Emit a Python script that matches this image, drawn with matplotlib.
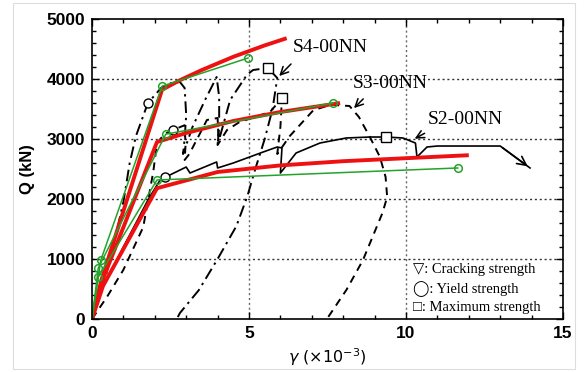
import matplotlib
matplotlib.use("Agg")
import matplotlib.pyplot as plt
from matplotlib.patches import Rectangle
from matplotlib.ticker import MultipleLocator

# experimental curves (gamma x1e-3, Q in kN)
s4_x = [0, 0.15, 0.35, 0.67, 1.0, 1.2, 1.4, 1.78, 2.2, 2.5, 2.8, 2.95, 3.0, 2.95, 2.9,
        3.2, 3.6, 3.97, 4.05, 4.05, 4.0, 4.4, 4.93, 5.13, 5.6, 5.9,
        5.75, 5.5, 5.2, 4.95, 4.6, 4.0, 3.4, 2.8, 2.7]
s4_y = [0, 270, 530, 1200, 1950, 2600, 3050, 3600, 3850, 3930, 3950, 3850, 3400, 3000, 2750,
        3200, 3650, 4033, 3700, 3200, 2900, 3650, 4067, 4150, 4183, 4017,
        3500, 3000, 2500, 2050, 1550, 1000, 480, 100, 0]

s3_x = [0, 0.48, 1.0, 1.63, 1.95, 2.07, 2.3, 2.58, 2.95, 2.98, 2.95, 3.1, 3.66, 4.0,
        4.02, 4.0, 4.3, 4.7, 5.67, 6.05, 6.0, 5.9, 6.3, 7.05, 7.6, 8.2,
        8.5, 8.85, 9.17, 9.35, 9.4, 9.25, 8.63, 8.1, 7.48]
s3_y = [0, 370, 820, 1530, 2450, 2930, 3080, 3150, 3230, 2900, 2650, 2750, 3317, 3350,
        3100, 2900, 3150, 3283, 3450, 3683, 3200, 2750, 3050, 3480, 3570, 3550,
        3367, 3033, 2700, 2367, 2033, 1767, 983, 483, 0]

s2_x = [0, 0.3, 1.0, 1.8, 2.17, 2.32, 2.48, 3.0, 3.12, 3.97, 4.0, 4.5, 5.45, 5.9, 6.05,
        6.0, 6.5, 7.26, 8.1, 8.85, 9.36, 9.9, 10.3, 10.35, 10.67, 11.0, 13.0, 13.95]
s2_y = [0, 480, 1200, 2000, 2317, 2367, 2400, 2533, 2433, 2617, 2517, 2600, 2783, 2867, 2850,
        2433, 2767, 2933, 3017, 3033, 3033, 3017, 2933, 2700, 2867, 2883, 2883, 2517]

# yield (circle) and maximum (square) points of the tests
yield_x = [1.78, 2.58, 2.32]
yield_y = [3600, 3150, 2367]
max_x = [5.6, 6.05, 9.36]
max_y = [4183, 3683, 3033]

# analysis: red = fibre model, green = tri-linear model
red_s4_x = [0, 0.3, 2.23, 2.8, 3.5, 4.5, 5.5, 6.2]
red_s4_y = [0, 650, 3820, 3980, 4150, 4370, 4560, 4680]
red_s3_x = [0, 0.3, 2.07, 3.0, 4.5, 6.0, 7.9]
red_s3_y = [0, 600, 2950, 3100, 3300, 3450, 3600]
red_s2_x = [0, 0.35, 2.07, 4.0, 6.0, 8.0, 10.0, 12.0]
red_s2_y = [0, 550, 2180, 2450, 2560, 2630, 2680, 2730]

grn_s4_x = [0, 0.28, 2.23, 4.97]
grn_s4_y = [0, 980, 3880, 4350]
grn_s3_x = [0, 0.2, 2.35, 7.68]
grn_s3_y = [0, 850, 3080, 3600]
grn_s2_x = [0, 0.2, 2.07, 11.65]
grn_s2_y = [0, 700, 2317, 2517]

specimens = ["S4-00NN", "S3-00NN", "S2-00NN"]
legend_lines = ["\u25bd: Cracking strength", "\u25ef: Yield strength", "\u25a1: Maximum strength"]

fig = plt.figure(figsize=(5.87, 3.72), dpi=100)
ax = fig.add_axes([92 / 587, 1 - 319 / 372, 471 / 587, 300 / 372])

fig.patches.append(Rectangle((13 / 587, 3 / 372), 562 / 587, 366 / 372, transform=fig.transFigure,
                             fill=False, edgecolor="#dddddd", lw=0.8))

ax.plot(s4_x, s4_y, color="black", lw=1.4, dashes=(6, 2.5, 1.2, 2.5))
ax.plot(s3_x, s3_y, color="black", lw=1.4, dashes=(4, 3))
ax.plot(s2_x, s2_y, color="black", lw=1.2)
ax.annotate("", xy=(s2_x[-1], s2_y[-1]), xytext=(s2_x[-2], s2_y[-2]),
            arrowprops=dict(arrowstyle="->", color="black", lw=1.2, mutation_scale=16))

ax.plot(yield_x, yield_y, "o", ms=6.5, mfc="white", mec="black", mew=1.0, ls="none")
ax.plot(max_x, max_y, "s", ms=6.5, mfc="white", mec="black", mew=1.0, ls="none")

for xs, ys in [(red_s4_x, red_s4_y), (red_s3_x, red_s3_y), (red_s2_x, red_s2_y)]:
    ax.plot(xs, ys, color="#ee1111", lw=2.8, solid_capstyle="butt")
for xs, ys in [(grn_s4_x, grn_s4_y), (grn_s3_x, grn_s3_y), (grn_s2_x, grn_s2_y)]:
    ax.plot(xs, ys, color="#22a32a", lw=1.1)
    ax.plot(xs[1:], ys[1:], "o", ms=5.5, mfc="none", mec="#22a32a", mew=1.1)

# specimen names with pointer arrows
name_pos = [(6.4, 4517), (8.31, 3917), (10.7, 3333)]
arrow_tail = [(6.4, 4283), (8.7, 3700), (10.67, 3117)]
arrow_tip = [(5.9, 4017), (8.28, 3483), (10.2, 2983)]
for name, pos, tail, tip in zip(specimens, name_pos, arrow_tail, arrow_tip):
    ax.text(pos[0], pos[1], name, fontsize=14, family="Liberation Serif", va="center", ha="left")
    ax.annotate("", xy=tip, xytext=tail,
                arrowprops=dict(arrowstyle="->", color="black", lw=1.1, mutation_scale=14))

for i, line in enumerate(legend_lines):
    ax.text(10.22, 817 - i * 310, line, fontsize=10.5, va="center", ha="left",
            family=["Liberation Serif", "DejaVu Sans"])

ax.set_xlim(0, 15)
ax.set_ylim(0, 5000)
ax.xaxis.set_major_locator(MultipleLocator(5))
ax.xaxis.set_minor_locator(MultipleLocator(1))
ax.yaxis.set_major_locator(MultipleLocator(1000))
ax.yaxis.set_minor_locator(MultipleLocator(200))
ax.tick_params(which="both", direction="in", top=True, right=True, width=1.0)
ax.tick_params(which="major", length=5, labelsize=12.5, pad=5)
ax.tick_params(which="minor", length=3)
for lab in ax.get_xticklabels() + ax.get_yticklabels():
    lab.set_fontweight("bold")
    lab.set_family("Liberation Sans")
for sp in ax.spines.values():
    sp.set_linewidth(1.2)

for yv in [1000, 2000, 3000, 4000]:
    ax.axhline(yv, color="#333333", lw=1.0, ls=(0, (1.5, 2)), zorder=0)
for xv in [5, 10]:
    ax.axvline(xv, color="#666666", lw=1.0, ls=(0, (1.5, 2)), zorder=0)

ax.set_ylabel("Q (kN)", fontsize=12, fontweight="bold", family="Liberation Sans", labelpad=8)
ax.set_xlabel(r"$\gamma$ (×10$^{-3}$)", fontsize=11.5, labelpad=4)

fig.savefig("out.png", dpi=100)
